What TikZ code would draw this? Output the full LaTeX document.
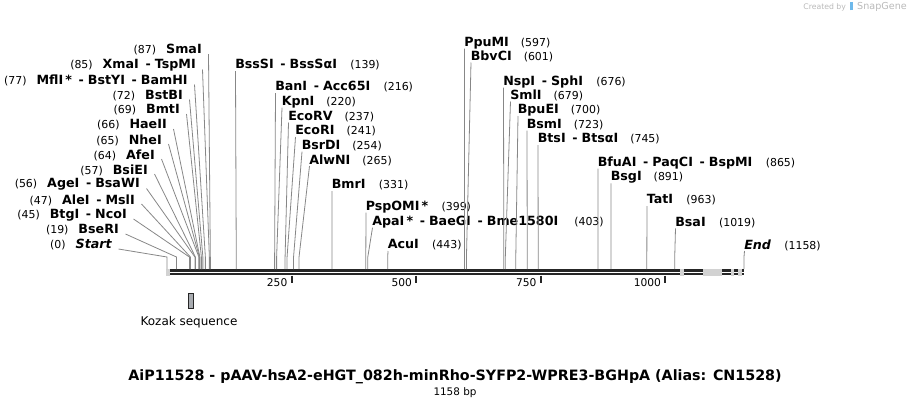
\documentclass[tikz,border=0pt]{standalone}
\usepackage{fontspec}
\setmainfont{DejaVu Sans}
\usetikzlibrary{math}

\definecolor{cutgray}{RGB}{135,135,135}
\definecolor{bardark}{RGB}{38,38,38}
\definecolor{kozakfill}{RGB}{168,171,176}
\definecolor{credgray}{RGB}{185,185,185}
\definecolor{logoblue}{RGB}{110,185,235}

\newcommand{\enz}[1]{{\fontsize{9.5}{11}\selectfont\bfseries #1}}
\newcommand{\dsh}{\hspace{5pt}-\hspace{3pt}}

\begin{document}
\begin{tikzpicture}[x=0.75pt,y=-0.75pt,
  lcut/.style={anchor=east,inner sep=0pt,font=\fontsize{8.2}{10}\selectfont},
  rcut/.style={anchor=west,inner sep=0pt,font=\fontsize{8.2}{10}\selectfont},
  cutline/.style={draw=cutgray,line width=0.6pt},
  seqline/.style={draw=bardark,line width=2pt},
  tickmark/.style={draw=bardark,line width=1.5pt},
  ticklabel/.style={anchor=east,inner sep=0pt,font=\fontsize{8}{10}\selectfont},
  kozak/.style={draw=bardark,fill=kozakfill,line width=0.5pt,inner sep=0pt,
    minimum width=3.8pt,minimum height=11.5pt}]

\tikzmath{
\xo = 167;
\sc = 577/1158;
\ybar = 269;
\yknee = 257;
}

\useasboundingbox (0,0) rectangle (911,408);

% sequence
\coordinate (knee) at (0,\yknee);
\coordinate (seqL) at (\xo,\ybar);
\coordinate (seqR) at (\xo+1158*\sc,\ybar);
\draw[seqline] ([shift={(0,1.3)}]seqL) -- ([shift={(0,1.3)}]seqR);
\draw[seqline] ([shift={(0,5)}]seqL) -- ([shift={(0,5)}]seqR);
\fill[gray!35] (166,268.5) rectangle (169.5,276);
\fill[gray!35] (680,268.5) rectangle (684,276);
\fill[gray!35] (703.3,268.5) rectangle (721.7,276);
\fill[gray!35] (730.7,268.5) rectangle (734,276);
\fill[gray!35] (738.3,268.5) rectangle (742,276);

% ruler
\coordinate (t250) at (\xo+250*\sc,275.5);
\coordinate (t500) at (\xo+500*\sc,275.5);
\coordinate (t750) at (\xo+750*\sc,275.5);
\coordinate (t1000) at (\xo+1000*\sc,275.5);
\draw[tickmark] (t250) -- ++(0,7.5);
\draw[tickmark] (t500) -- ++(0,7.5);
\draw[tickmark] (t750) -- ++(0,7.5);
\draw[tickmark] (t1000) -- ++(0,7.5);
\node[ticklabel] (l250) at ([shift={(-4,6.8)}]t250) {250};
\node[ticklabel] (l500) at ([shift={(-4,6.8)}]t500) {500};
\node[ticklabel] (l750) at ([shift={(-4,6.8)}]t750) {750};
\node[ticklabel] (l1000) at ([shift={(-4,6.8)}]t1000) {1000};

% cut sites
\coordinate (s0) at (\xo,\ybar);
\coordinate (s19) at (\xo+19*\sc,\ybar);
\coordinate (s45) at (\xo+45*\sc,\ybar);
\coordinate (s47) at (\xo+47*\sc,\ybar);
\coordinate (s56) at (\xo+56*\sc,\ybar);
\coordinate (s57) at (\xo+57*\sc,\ybar);
\coordinate (s64) at (\xo+64*\sc,\ybar);
\coordinate (s65) at (\xo+65*\sc,\ybar);
\coordinate (s66) at (\xo+66*\sc,\ybar);
\coordinate (s69) at (\xo+69*\sc,\ybar);
\coordinate (s72) at (\xo+72*\sc,\ybar);
\coordinate (s77) at (\xo+77*\sc,\ybar);
\coordinate (s85) at (\xo+85*\sc,\ybar);
\coordinate (s87) at (\xo+87*\sc,\ybar);
\coordinate (s139) at (\xo+139*\sc,\ybar);
\coordinate (s216) at (\xo+216*\sc,\ybar);
\coordinate (s220) at (\xo+220*\sc,\ybar);
\coordinate (s237) at (\xo+237*\sc,\ybar);
\coordinate (s241) at (\xo+241*\sc,\ybar);
\coordinate (s254) at (\xo+254*\sc,\ybar);
\coordinate (s265) at (\xo+265*\sc,\ybar);
\coordinate (s331) at (\xo+331*\sc,\ybar);
\coordinate (s399) at (\xo+399*\sc,\ybar);
\coordinate (s403) at (\xo+403*\sc,\ybar);
\coordinate (s443) at (\xo+443*\sc,\ybar);
\coordinate (s597) at (\xo+597*\sc,\ybar);
\coordinate (s601) at (\xo+601*\sc,\ybar);
\coordinate (s676) at (\xo+676*\sc,\ybar);
\coordinate (s679) at (\xo+679*\sc,\ybar);
\coordinate (s700) at (\xo+700*\sc,\ybar);
\coordinate (s723) at (\xo+723*\sc,\ybar);
\coordinate (s745) at (\xo+745*\sc,\ybar);
\coordinate (s865) at (\xo+865*\sc,\ybar);
\coordinate (s891) at (\xo+891*\sc,\ybar);
\coordinate (s963) at (\xo+963*\sc,\ybar);
\coordinate (s1019) at (\xo+1019*\sc,\ybar);
\coordinate (s1158) at (\xo+1158*\sc,\ybar);

% left labels
\node[lcut] (smaI) at (202,50) {(87)\hspace{7.5pt}\enz{SmaI}};
\node[lcut] (xmaI) at (196,65.5) {(85)\hspace{7.5pt}\enz{XmaI\dsh TspMI}};
\node[lcut] (mflI) at (188,80.5) {(77)\hspace{7.5pt}\enz{MflI\,*\dsh BstYI\dsh BamHI}};
\node[lcut] (bstBI) at (183,95.5) {(72)\hspace{7.5pt}\enz{BstBI}};
\node[lcut] (bmtI) at (180,110) {(69)\hspace{7.5pt}\enz{BmtI}};
\node[lcut] (haeII) at (167,125) {(66)\hspace{7.5pt}\enz{HaeII}};
\node[lcut] (nheI) at (162,140) {(65)\hspace{7.5pt}\enz{NheI}};
\node[lcut] (afeI) at (155,155) {(64)\hspace{7.5pt}\enz{AfeI}};
\node[lcut] (bsiEI) at (148,170) {(57)\hspace{7.5pt}\enz{BsiEI}};
\node[lcut] (ageI) at (140,184.5) {(56)\hspace{7.5pt}\enz{AgeI\dsh BsaWI}};
\node[lcut] (aleI) at (135,200) {(47)\hspace{7.5pt}\enz{AleI\dsh MslI}};
\node[lcut] (btgI) at (127,215) {(45)\hspace{7.5pt}\enz{BtgI\dsh NcoI}};
\node[lcut] (bseRI) at (119,230) {(19)\hspace{7.5pt}\enz{BseRI}};
\node[lcut] (start) at (112,245) {(0)\hspace{7.5pt}\enz{\itshape Start}};

\draw[cutline] ([shift={(6.5,4)}]smaI.east) -- (s87 |- knee) -- (s87);
\draw[cutline] ([shift={(6.5,4)}]xmaI.east) -- (s85 |- knee) -- (s85);
\draw[cutline] ([shift={(6.5,4)}]mflI.east) -- (s77 |- knee) -- (s77);
\draw[cutline] ([shift={(6.5,4)}]bstBI.east) -- (s72 |- knee) -- (s72);
\draw[cutline] ([shift={(6.5,4)}]bmtI.east) -- (s69 |- knee) -- (s69);
\draw[cutline] ([shift={(6.5,4)}]haeII.east) -- (s66 |- knee) -- (s66);
\draw[cutline] ([shift={(6.5,4)}]nheI.east) -- (s65 |- knee) -- (s65);
\draw[cutline] ([shift={(6.5,4)}]afeI.east) -- (s64 |- knee) -- (s64);
\draw[cutline] ([shift={(6.5,4)}]bsiEI.east) -- (s57 |- knee) -- (s57);
\draw[cutline] ([shift={(6.5,4)}]ageI.east) -- (s56 |- knee) -- (s56);
\draw[cutline] ([shift={(6.5,4)}]aleI.east) -- (s47 |- knee) -- (s47);
\draw[cutline] ([shift={(6.5,4)}]btgI.east) -- (s45 |- knee) -- (s45);
\draw[cutline] ([shift={(6.5,4)}]bseRI.east) -- (s19 |- knee) -- (s19);
\draw[cutline] ([shift={(6.5,4)}]start.east) -- (s0 |- knee) -- (s0);

% right labels
\node[rcut] (bssSI) at (235,65) {\enz{BssSI\dsh BssSαI}\hspace{10pt}(139)};
\node[rcut] (banI) at (275,87) {\enz{BanI\dsh Acc65I}\hspace{10pt}(216)};
\node[rcut] (kpnI) at (281.5,101.7) {\enz{KpnI}\hspace{9pt}(220)};
\node[rcut] (ecoRV) at (288,116.5) {\enz{EcoRV}\hspace{9pt}(237)};
\node[rcut] (ecoRI) at (295,131) {\enz{EcoRI}\hspace{9pt}(241)};
\node[rcut] (bsrDI) at (301.5,145.7) {\enz{BsrDI}\hspace{9pt}(254)};
\node[rcut] (alwNI) at (309,160) {\enz{AlwNI}\hspace{9pt}(265)};
\node[rcut] (bmrI) at (331.5,185) {\enz{BmrI}\hspace{10pt}(331)};
\node[rcut] (pspOMI) at (365.5,206.7) {\enz{PspOMI\,*}\hspace{10pt}(399)};
\node[rcut] (apaI) at (372,221.7) {\enz{ApaI\,*\dsh BaeGI\dsh Bme1580I}\hspace{12pt}(403)};
\node[rcut] (acuI) at (387.5,245) {\enz{AcuI}\hspace{10pt}(443)};
\node[rcut] (ppuMI) at (464,42.7) {\enz{PpuMI}\hspace{9pt}(597)};
\node[rcut] (bbvCI) at (470.5,56.5) {\enz{BbvCI}\hspace{9pt}(601)};
\node[rcut] (nspI) at (503,81.7) {\enz{NspI\dsh SphI}\hspace{10pt}(676)};
\node[rcut] (smlI) at (510,95.5) {\enz{SmlI}\hspace{9pt}(679)};
\node[rcut] (bpuEI) at (517.5,110) {\enz{BpuEI}\hspace{9pt}(700)};
\node[rcut] (bsmI) at (526.5,124.5) {\enz{BsmI}\hspace{9pt}(723)};
\node[rcut] (btsI) at (537.5,139) {\enz{BtsI\dsh BtsαI}\hspace{9pt}(745)};
\node[rcut] (bfuAI) at (597.5,162.7) {\enz{BfuAI\dsh PaqCI\dsh BspMI}\hspace{10pt}(865)};
\node[rcut] (bsgI) at (610.5,177.3) {\enz{BsgI}\hspace{9pt}(891)};
\node[rcut] (tatI) at (646.5,200) {\enz{TatI}\hspace{10pt}(963)};
\node[rcut] (bsaI) at (675,222.3) {\enz{BsaI}\hspace{10pt}(1019)};
\node[rcut] (endlbl) at (744,245) {\enz{\itshape End}\hspace{10pt}(1158)};

\draw[cutline] ([shift={(0.5,6)}]bssSI.west) -- (s139 |- knee) -- (s139);
\draw[cutline] ([shift={(0.5,6)}]banI.west) -- (s216 |- knee) -- (s216);
\draw[cutline] ([shift={(0.5,6)}]kpnI.west) -- (s220 |- knee) -- (s220);
\draw[cutline] ([shift={(0.5,6)}]ecoRV.west) -- (s237 |- knee) -- (s237);
\draw[cutline] ([shift={(0.5,6)}]ecoRI.west) -- (s241 |- knee) -- (s241);
\draw[cutline] ([shift={(0.5,6)}]bsrDI.west) -- (s254 |- knee) -- (s254);
\draw[cutline] ([shift={(0.5,6)}]alwNI.west) -- (s265 |- knee) -- (s265);
\draw[cutline] ([shift={(0.5,6)}]bmrI.west) -- (s331 |- knee) -- (s331);
\draw[cutline] ([shift={(0.5,6)}]pspOMI.west) -- (s399 |- knee) -- (s399);
\draw[cutline] ([shift={(0.5,6)}]apaI.west) -- (s403 |- knee) -- (s403);
\draw[cutline] ([shift={(0.5,6)}]acuI.west) -- (s443 |- knee) -- (s443);
\draw[cutline] ([shift={(0.5,6)}]ppuMI.west) -- (s597 |- knee) -- (s597);
\draw[cutline] ([shift={(0.5,6)}]bbvCI.west) -- (s601 |- knee) -- (s601);
\draw[cutline] ([shift={(0.5,6)}]nspI.west) -- (s676 |- knee) -- (s676);
\draw[cutline] ([shift={(0.5,6)}]smlI.west) -- (s679 |- knee) -- (s679);
\draw[cutline] ([shift={(0.5,6)}]bpuEI.west) -- (s700 |- knee) -- (s700);
\draw[cutline] ([shift={(0.5,6)}]bsmI.west) -- (s723 |- knee) -- (s723);
\draw[cutline] ([shift={(0.5,6)}]btsI.west) -- (s745 |- knee) -- (s745);
\draw[cutline] ([shift={(0.5,6)}]bfuAI.west) -- (s865 |- knee) -- (s865);
\draw[cutline] ([shift={(0.5,6)}]bsgI.west) -- (s891 |- knee) -- (s891);
\draw[cutline] ([shift={(0.5,6)}]tatI.west) -- (s963 |- knee) -- (s963);
\draw[cutline] ([shift={(0.5,6)}]bsaI.west) -- (s1019 |- knee) -- (s1019);
\draw[cutline] ([shift={(0.5,6)}]endlbl.west) -- (s1158 |- knee) -- (s1158);

% features
\node[kozak] (kozak) at (190.5,300.5) {};
\node[font=\fontsize{9}{11}\selectfont] (kozaklbl) at (189,322) {Kozak sequence};

% title
\node[font=\fontsize{10.7}{12}\selectfont\bfseries] (title) at (455,377) {AiP11528 - pAAV-hsA2-eHGT\_082h-minRho-SYFP2-WPRE3-BGHpA (Alias: CN1528)};
\node[font=\fontsize{7.8}{9}\selectfont] (bplen) at (455,393) {1158 bp};
\node[anchor=east,inner sep=0pt,text=credgray] (credit) at (907,7) {{\fontsize{5.8}{7}\selectfont Created by}\hspace{3pt}\textcolor{logoblue}{\rule[-0.5pt]{2.5pt}{6pt}}\hspace{3pt}{\fontsize{7.2}{8}\selectfont SnapGene}};

\end{tikzpicture}
\end{document}
